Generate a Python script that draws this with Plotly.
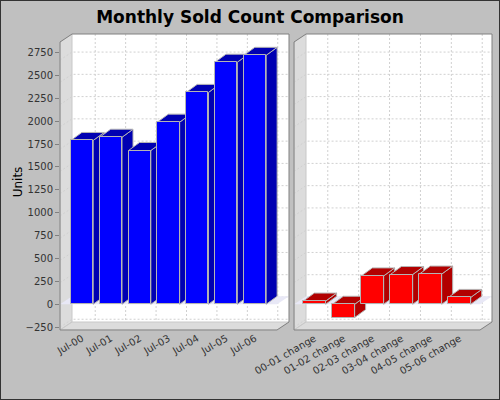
import plotly.graph_objects as go

# ---------------- data ----------------
months = ["Jul-00", "Jul-01", "Jul-02", "Jul-03", "Jul-04", "Jul-05", "Jul-06"]
sold = [1790, 1825, 1680, 1990, 2315, 2645, 2720]
change_labels = ["00-01 change", "01-02 change", "02-03 change",
                 "03-04 change", "04-05 change", "05-06 change"]
changes = [35, -145, 310, 325, 330, 75]
y_ticks = [-250, 0, 250, 500, 750, 1000, 1250, 1500, 1750, 2000, 2250, 2500, 2750]
y_range = [-281, 2953]

# ---------------- layout constants (pixels) ----------------
FW, FH = 500, 400
T, B = 34, 330
PANELS = [(60, 289), (294, 492)]
DX, DY = 12, 8          # wall depth
BDX, BDY = 11, 8        # bar depth
H = B - T
BG = "#c0c0c0"
WALL = "#dcdcdc"
EDGE = "#808080"
GRID = "#d0d0d0"
OUTLINE = "#b4b4b4"
FONT = "DejaVu Sans"


def px(x):
    return x / FW


def py(y):
    return 1 - y / FH


def val_to_px_front(v):
    return B - (v - y_range[0]) / (y_range[1] - y_range[0]) * H


def val_to_px_back(v):
    return T + (y_range[1] - v) / (y_range[1] - y_range[0]) * (H - DY)


def path(points, close=True):
    s = "M " + " L ".join(f"{px(a):.5f},{py(b):.5f}" for a, b in points)
    return s + (" Z" if close else "")


fig = go.Figure()
shapes = []


def build_panel(k, cats, vals, face, dark):
    L, R = PANELS[k]
    W = R - L
    n = len(cats)
    # category geometry for the front plane (JFreeChart-style margins)
    Wf = W - DX
    start = 0.05 * Wf
    avail = 0.9 * Wf
    gap = 0.2 * avail / (n - 1)
    cw = 0.8 * avail / n
    step = cw + gap
    x_lo = -(start + cw / 2) / step
    x_hi = x_lo + W / step
    bw = cw / step
    bdx = BDX / step
    bdy = BDY * (y_range[1] - y_range[0]) / H

    # walls
    shapes.append(dict(type="path", xref="paper", yref="paper", layer="below",
                       path=path([(L + DX, T), (R, T), (R, B - DY), (L + DX, B - DY)]),
                       fillcolor="white", line=dict(width=0)))
    shapes.append(dict(type="path", xref="paper", yref="paper", layer="below",
                       path=path([(L, T + DY), (L + DX, T), (L + DX, B - DY), (L, B)]),
                       fillcolor=WALL, line=dict(color="#c8c8c8", width=1)))
    shapes.append(dict(type="path", xref="paper", yref="paper", layer="below",
                       path=path([(L, B), (L + DX, B - DY), (R, B - DY), (R - DX, B)]),
                       fillcolor=WALL, line=dict(color="#c8c8c8", width=1)))
    # horizontal grid lines
    for v in y_ticks:
        yg = val_to_px_back(v)
        shapes.append(dict(type="path", xref="paper", yref="paper", layer="below",
                           path=path([(L, yg + DY), (L + DX, yg), (R, yg)], close=False),
                           line=dict(color=GRID, width=1, dash="2px,2px")))
    # vertical grid lines (category middles on full width, pushed back)
    s2 = 0.05 * W
    a2 = 0.9 * W
    g2 = 0.2 * a2 / (n - 1)
    c2 = 0.8 * a2 / n
    for i in range(n):
        xg = L + s2 + c2 / 2 + i * (c2 + g2) + DX
        shapes.append(dict(type="path", xref="paper", yref="paper", layer="below",
                           path=path([(xg, T), (xg, B - DY)], close=False),
                           line=dict(color=GRID, width=1, dash="2px,2px")))
    # zero plane
    y0 = val_to_px_front(0)
    shapes.append(dict(type="path", xref="paper", yref="paper", layer="below",
                       path=path([(L, y0), (L + DX, y0 - DY), (R, y0 - DY), (R - DX, y0)]),
                       fillcolor="#e8e8f6", line=dict(width=0)))
    # box outline
    shapes.append(dict(type="path", xref="paper", yref="paper", layer="below",
                       path=path([(L, T + DY), (L + DX, T), (R, T), (R, B - DY),
                                  (R - DX, B), (L, B)]),
                       line=dict(color=EDGE, width=1)))

    xa = "x" if k == 0 else "x2"
    ya = "y" if k == 0 else "y2"
    xo = "x3" if k == 0 else "x4"
    yo = "y3" if k == 0 else "y4"

    # side and top faces of each bar, in drawing order
    for i, v in enumerate(vals):
        lo, hi = min(0, v), max(0, v)
        xl, xr = i - bw / 2, i + bw / 2
        fig.add_trace(go.Scatter(
            x=[xr, xr + bdx, xr + bdx, xr, xr],
            y=[lo, lo + bdy, hi + bdy, hi, lo],
            mode="lines", fill="toself", fillcolor=dark,
            line=dict(color=OUTLINE, width=1),
            xaxis=xa, yaxis=ya, hoverinfo="skip", showlegend=False))
        fig.add_trace(go.Scatter(
            x=[xl, xl + bdx, xr + bdx, xr, xl],
            y=[hi, hi + bdy, hi + bdy, hi, hi],
            mode="lines", fill="toself", fillcolor=dark,
            line=dict(color=OUTLINE, width=1),
            xaxis=xa, yaxis=ya, hoverinfo="skip", showlegend=False))
    # front faces
    fig.add_trace(go.Bar(
        x=list(range(n)), y=vals, width=bw,
        marker=dict(color=face, line=dict(color=OUTLINE, width=1)),
        xaxis=xo, yaxis=yo, hoverinfo="skip", showlegend=False))

    return [x_lo, x_hi]


xr1 = build_panel(0, months, sold, "#0000ff", "#0000b2")
xr2 = build_panel(1, change_labels, changes, "#ff0000", "#b20000")

# outer border
shapes.append(dict(type="rect", xref="paper", yref="paper", layer="above",
                   x0=0, y0=0, x1=1, y1=1, line=dict(color="#333333", width=2)))

dom_y = [py(B), py(T)]
tickfont = dict(family=FONT, size=10, color="#333333")

fig.update_layout(
    width=FW, height=FH,
    margin=dict(l=0, r=0, t=0, b=0, autoexpand=False),
    paper_bgcolor=BG, plot_bgcolor=BG,
    bargap=0,
    title=dict(text="Monthly Sold Count Comparison", x=0.5, xanchor="center",
               y=py(17), yanchor="middle", automargin=False,
               font=dict(family=FONT, size=17, color="black", weight="bold")),
    xaxis=dict(domain=[px(PANELS[0][0]), px(PANELS[0][1])], range=xr1, anchor="y",
               tickvals=list(range(len(months))), ticktext=months, tickangle=-30,
               showgrid=False, zeroline=False, showline=False, ticks="",
               tickfont=tickfont, automargin=False),
    yaxis=dict(domain=dom_y, range=y_range, anchor="x", automargin=False,
               tickvals=y_ticks, ticks="outside", ticklen=4, tickcolor=EDGE,
               showgrid=False, zeroline=False, showline=False, tickfont=tickfont,
               title=dict(text="Units", font=dict(family=FONT, size=12, color="black"),
                          standoff=0)),
    xaxis2=dict(domain=[px(PANELS[1][0]), px(PANELS[1][1])], range=xr2, anchor="y2",
                tickvals=list(range(len(change_labels))), ticktext=change_labels,
                tickangle=-30, showgrid=False, zeroline=False, showline=False,
                ticks="", tickfont=tickfont, automargin=False),
    yaxis2=dict(domain=dom_y, range=y_range, anchor="x2", showticklabels=False,
                ticks="", showgrid=False, zeroline=False, showline=False,
                automargin=False),
    xaxis3=dict(overlaying="x", range=xr1, visible=False),
    yaxis3=dict(overlaying="y", range=y_range, visible=False),
    xaxis4=dict(overlaying="x2", range=xr2, visible=False),
    yaxis4=dict(overlaying="y2", range=y_range, visible=False),
    shapes=shapes,
)

fig.write_html("out.html",
               config={"displayModeBar": False},
               post_script="document.body.style.margin='0';"
                           "document.body.style.overflow='hidden';")
